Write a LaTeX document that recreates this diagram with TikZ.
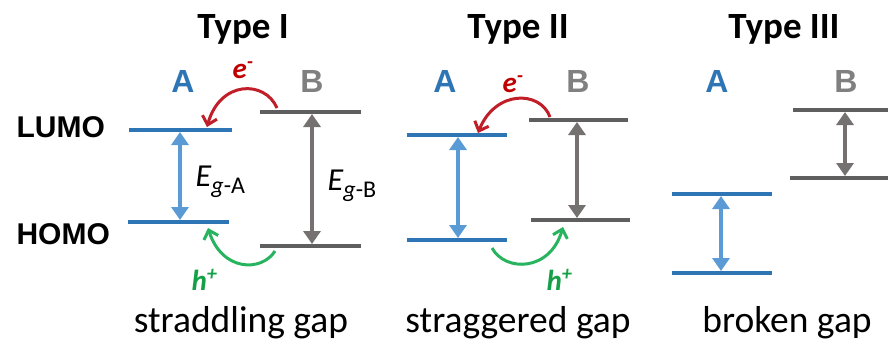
\documentclass[tikz,border=0pt]{standalone}
\usepackage{fontspec}
\setmainfont{Carlito}
\newfontfamily\arialfont{Liberation Sans}
\usetikzlibrary{arrows.meta}
\definecolor{lineblue}{RGB}{46,117,182}
\definecolor{arrblue}{RGB}{91,155,213}
\definecolor{linegray}{RGB}{95,95,95}
\definecolor{arrgray}{RGB}{118,113,113}
\definecolor{lblgray}{RGB}{128,128,128}
\definecolor{ered}{RGB}{192,0,0}
\definecolor{arrred}{RGB}{192,30,40}
\definecolor{hgreen}{RGB}{20,160,70}
\definecolor{arrgreen}{RGB}{40,180,95}
\tikzset{
  level/.style={line width=4.2pt},
  gaparrow/.style={line width=3.4pt,{Triangle[length=13pt,width=17pt]}-{Triangle[length=13pt,width=17pt]}},
  transfer/.style={line width=3pt,-{Straight Barb[length=8pt,width=15pt]}},
  title/.style={anchor=base,font=\bfseries\fontsize{37}{37}\selectfont},
  orbital/.style={anchor=base west,font=\arialfont\bfseries\fontsize{30}{30}\selectfont},
  matlbl/.style={anchor=base,font=\arialfont\bfseries\fontsize{32}{32}\selectfont},
  carrier/.style={anchor=base west,font=\bfseries\itshape\fontsize{29}{29}\selectfont},
  eglbl/.style={anchor=base west,font=\fontsize{32}{32}\selectfont},
  caption/.style={anchor=base,font=\fontsize{37.5}{37.5}\selectfont}
}
\newcommand{\egsub}[1]{\textit{E}\raisebox{-7pt}{\fontsize{24}{24}\selectfont\textit{g}-#1}}
\begin{document}
\begin{tikzpicture}[x=1pt,y=-1pt]
\useasboundingbox (0,0) rectangle (888,341);
% ---------- Type I ----------
\coordinate (a1l1) at (129,130); \coordinate (a1l2) at (232,130);
\coordinate (a1h1) at (128,222); \coordinate (a1h2) at (229,222);
\coordinate (b1l1) at (260,112); \coordinate (b1l2) at (361,112);
\coordinate (b1h1) at (260,246); \coordinate (b1h2) at (361,246);
\draw[level,lineblue] (a1l1) -- (a1l2);
\draw[level,lineblue] (a1h1) -- (a1h2);
\draw[level,linegray] (b1l1) -- (b1l2);
\draw[level,linegray] (b1h1) -- (b1h2);
\coordinate (ga1t) at (180,132); \coordinate (ga1b) at (180,220);
\coordinate (gb1t) at (312,114); \coordinate (gb1b) at (312,244);
\draw[gaparrow,arrblue] (ga1t) -- (ga1b);
\draw[gaparrow,arrgray] (gb1t) -- (gb1b);
\coordinate (r1s) at (277,108); \coordinate (r1e) at (207,127);
\coordinate (g1s) at (275,251); \coordinate (g1e) at (208,228);
\draw[transfer,arrred] (r1s) .. controls (265,80) and (220,80) .. (r1e);
\draw[transfer,arrgreen] (g1s) .. controls (262,272) and (222,272) .. (g1e);
\node[title] (t1) at (243,38) {Type I};
\node[matlbl,lineblue] (lA1) at (183,92) {A};
\node[matlbl,lblgray] (lB1) at (312,92) {B};
\node[carrier,ered] (e1) at (229,78) {e\textsuperscript{-}};
\node[carrier,hgreen] (h1) at (188,290) {h\textsuperscript{+}};
\node[eglbl] (ega) at (192,186) {\egsub{A}};
\node[eglbl] (egb) at (324,190) {\egsub{B}};
\node[caption] (c1) at (241,332) {straddling gap};
\node[orbital] (lumo) at (13,137) {LUMO};
\node[orbital] (homo) at (13,244) {HOMO};
% ---------- Type II ----------
\coordinate (a2l1) at (407,135); \coordinate (a2l2) at (507,135);
\coordinate (a2h1) at (407,240); \coordinate (a2h2) at (507,240);
\coordinate (b2l1) at (529,120); \coordinate (b2l2) at (628,120);
\coordinate (b2h1) at (531,220); \coordinate (b2h2) at (630,220);
\draw[level,lineblue] (a2l1) -- (a2l2);
\draw[level,lineblue] (a2h1) -- (a2h2);
\draw[level,linegray] (b2l1) -- (b2l2);
\draw[level,linegray] (b2h1) -- (b2h2);
\coordinate (ga2t) at (458,137); \coordinate (ga2b) at (458,238);
\coordinate (gb2t) at (577,122); \coordinate (gb2b) at (577,218);
\draw[gaparrow,arrblue] (ga2t) -- (ga2b);
\draw[gaparrow,arrgray] (gb2t) -- (gb2b);
\coordinate (r2s) at (550,117); \coordinate (r2e) at (478,133);
\coordinate (g2s) at (492,248); \coordinate (g2e) at (563,227);
\draw[transfer,arrred] (r2s) .. controls (540,90) and (495,90) .. (r2e);
\draw[transfer,arrgreen] (g2s) .. controls (505,272) and (550,272) .. (g2e);
\node[title] (t2) at (518,38) {Type II};
\node[matlbl,lineblue] (lA2) at (445,92) {A};
\node[matlbl,lblgray] (lB2) at (578,92) {B};
\node[carrier,ered] (e2) at (499,92) {e\textsuperscript{-}};
\node[carrier,hgreen] (h2) at (543,290) {h\textsuperscript{+}};
\node[caption] (c2) at (518,332) {straggered gap};
% ---------- Type III ----------
\coordinate (a3l1) at (672,194); \coordinate (a3l2) at (772,194);
\coordinate (a3h1) at (672,273); \coordinate (a3h2) at (772,273);
\coordinate (b3l1) at (793,110); \coordinate (b3l2) at (888,110);
\coordinate (b3h1) at (790,178); \coordinate (b3h2) at (888,178);
\draw[level,lineblue] (a3l1) -- (a3l2);
\draw[level,lineblue] (a3h1) -- (a3h2);
\draw[level,linegray] (b3l1) -- (b3l2);
\draw[level,linegray] (b3h1) -- (b3h2);
\coordinate (ga3t) at (721,196); \coordinate (ga3b) at (721,271);
\coordinate (gb3t) at (845,112); \coordinate (gb3b) at (845,176);
\draw[gaparrow,arrblue] (ga3t) -- (ga3b);
\draw[gaparrow,arrgray] (gb3t) -- (gb3b);
\node[title] (t3) at (784,38) {Type III};
\node[matlbl,lineblue] (lA3) at (717,92) {A};
\node[matlbl,lblgray] (lB3) at (846,92) {B};
\node[caption] (c3) at (787,332) {broken gap};
\end{tikzpicture}
\end{document}
